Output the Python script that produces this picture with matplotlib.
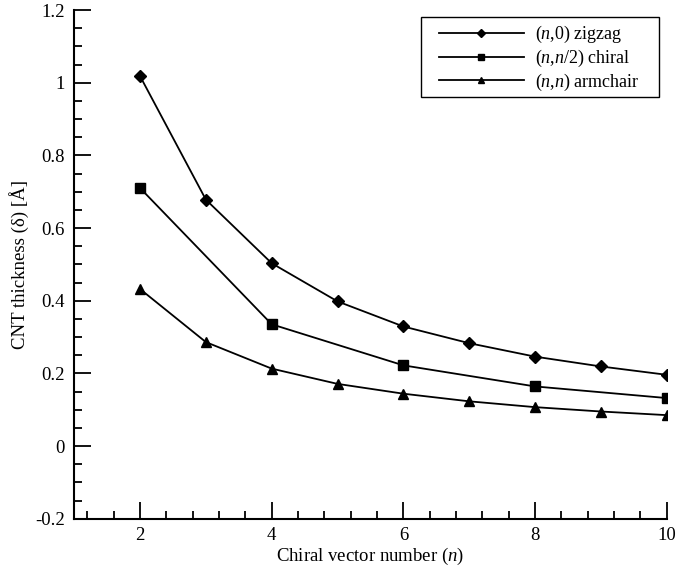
import matplotlib
matplotlib.use("Agg")
import matplotlib.pyplot as plt
from matplotlib.ticker import MultipleLocator
from matplotlib.patches import Rectangle

plt.rcParams['font.family'] = ['Liberation Serif', 'DejaVu Serif']
plt.rcParams['mathtext.fontset'] = 'custom'
plt.rcParams['mathtext.rm'] = 'Liberation Serif'
plt.rcParams['mathtext.it'] = 'Liberation Serif:italic'

n_all = [2, 3, 4, 5, 6, 7, 8, 9, 10]
zigzag = [1.018, 0.678, 0.503, 0.398, 0.329, 0.283, 0.246, 0.219, 0.196]
n_even = [2, 4, 6, 8, 10]
chiral = [0.710, 0.335, 0.222, 0.164, 0.132]
armchair = [0.432, 0.286, 0.213, 0.171, 0.144, 0.123, 0.107, 0.095, 0.085]

labels = [r'($n$,0) zigzag', r'($n$,$n$/2) chiral', r'($n$,$n$) armchair']

FS = 13.5
W, H = 676, 572

fig = plt.figure(figsize=(W / 100, H / 100), dpi=100)
ax = fig.add_axes([0.1098, 0.0932, 0.8765, 0.8893])

ax.plot(n_all, zigzag, color='black', lw=1.3, marker='D', ms=6.5, label=labels[0])
ax.plot(n_even, chiral, color='black', lw=1.3, marker='s', ms=6.5, label=labels[1])
ax.plot(n_all, armchair, color='black', lw=1.3, marker='^', ms=7, label=labels[2])

ax.set_xlim(1, 10)
ax.set_ylim(-0.2, 1.2)
ax.xaxis.set_major_locator(MultipleLocator(2))
ax.xaxis.set_minor_locator(MultipleLocator(0.4))
ax.yaxis.set_major_locator(MultipleLocator(0.2))
ax.yaxis.set_minor_locator(MultipleLocator(0.05))

ax.set_yticks([-0.2, 0, 0.2, 0.4, 0.6, 0.8, 1.0, 1.2])
ax.set_yticklabels(['-0.2', '0', '0.2', '0.4', '0.6', '0.8', '1', '1.2'])

for s in ['top', 'right']:
    ax.spines[s].set_visible(False)
for s in ['left', 'bottom']:
    ax.spines[s].set_linewidth(1.5)

ax.tick_params(which='both', direction='in', top=False, right=False, labelsize=FS, width=1.3)
ax.tick_params(which='major', length=12)
ax.tick_params(which='minor', length=6)
ax.tick_params(axis='x', pad=6)
ax.tick_params(axis='y', pad=7)

ax.set_xlabel(r'Chiral vector number ($n$)', fontsize=FS, labelpad=1)
ax.set_ylabel('CNT thickness (δ) [Å]', fontsize=FS, labelpad=4)

leg = ax.legend(loc='upper right', bbox_to_anchor=(640 / W, 1 - 24 / H),
                bbox_transform=fig.transFigure, fontsize=13,
                frameon=False, handlelength=4.76,
                markerscale=0.65, borderpad=0.0, labelspacing=0.15, handletextpad=0.6,
                borderaxespad=0)

# legend frame (box drawn around the legend, wider on the left as in the reference)
fig.patches.append(Rectangle((421 / W, 1 - 97 / H), 238 / W, 80 / H,
                             transform=fig.transFigure, fill=False,
                             edgecolor='black', linewidth=1.0, zorder=5))

fig.savefig('out.png', dpi=100)
